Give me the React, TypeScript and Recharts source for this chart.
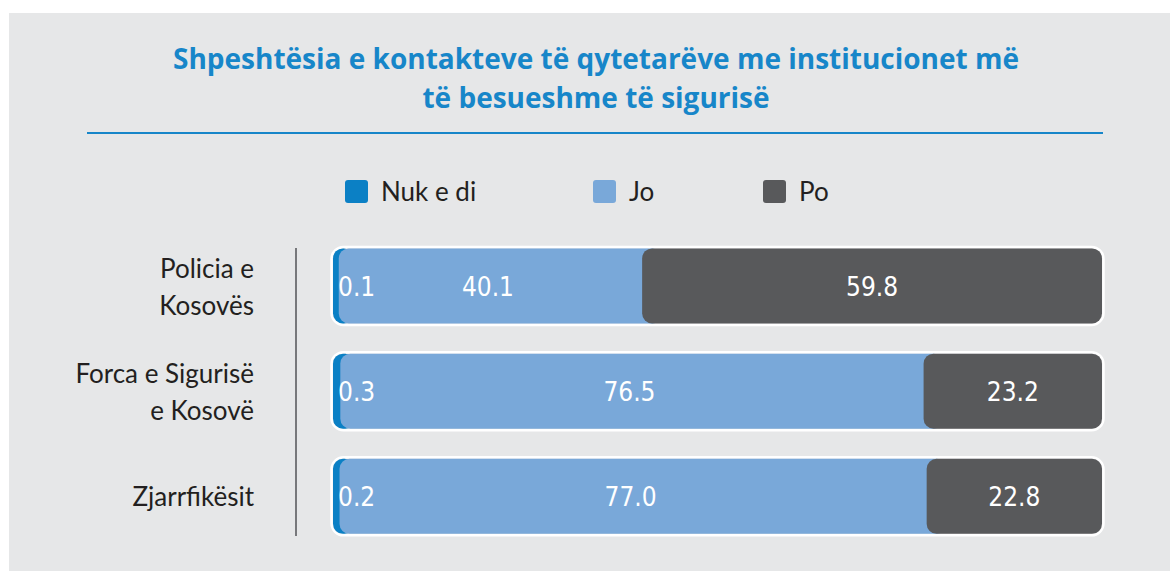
import React from 'react';
import { BarChart, Bar, XAxis, YAxis, LabelList } from 'recharts';

const categories = ['Policia e Kosovës', 'Forca e Sigurisë e Kosovë', 'Zjarrfikësit'];
const categoryLines = [['Policia e', 'Kosovës'], ['Forca e Sigurisë', 'e Kosovë'], ['Zjarrfikësit']];
const nukEDi = [0.1, 0.3, 0.2];
const jo = [40.1, 76.5, 77.0];
const po = [59.8, 23.2, 22.8];

const seriesKeys = ['nuk', 'jo', 'po'] as const;
const seriesNames = ['Nuk e di', 'Jo', 'Po'];
const seriesColors = ['#0b80c5', '#79a8d9', '#58595b'];

const data = categories.map((name, i) => ({ name, nuk: nukEDi[i], jo: jo[i], po: po[i] }));

const BG = '#e6e7e8';
const TEXT = '#231f20';
const TITLE = '#1786c9';
const NARROW = "'Liberation Sans Narrow', 'DejaVu Sans Condensed', sans-serif";
const SANS = "Lato, 'Open Sans', sans-serif";

// each segment is a rounded rect that runs under the next one
function segment(shiftLeft: number, extendRight: number) {
  return (props: any) => {
    const { x, y, width, height, fill } = props;
    const sx = x + shiftLeft;
    const w = Math.max(width - shiftLeft + extendRight, 0);
    return <rect x={sx} y={y} width={w} height={height} rx={10} ry={10} fill={fill} />;
  };
}

function outline(props: any) {
  const { x, y, width, height } = props;
  return (
    <rect x={x - 1.5} y={y - 1.5} width={width + 3} height={height + 3} rx={12} ry={12}
      fill="none" stroke="#ffffff" strokeWidth={2.5} />
  );
}

function valueLabel(mode: 'left' | 'center') {
  return (props: any) => {
    const { x, y, width, height, value } = props;
    const tx = mode === 'left' ? x + 5 : x + width / 2;
    return (
      <text x={tx} y={y + height / 2 + 10} fill="#ffffff" fontSize={26} fontFamily={NARROW}
        textAnchor={mode === 'left' ? 'start' : 'middle'}>
        {Number(value).toFixed(1)}
      </text>
    );
  };
}

function CategoryTick(props: any) {
  const { y, payload } = props;
  const lines = categoryLines[payload.index] ?? [payload.value];
  const offsets = lines.length === 2 ? [-8, 29] : [9.5];
  return (
    <g>
      {lines.map((l, i) => (
        <text key={i} x={245} y={y + offsets[i]} textAnchor="end" fill={TEXT} fontSize={26} fontFamily={SANS}>
          {l}
        </text>
      ))}
    </g>
  );
}

function LegendRow() {
  const xs = [336, 584, 754];
  return (
    <div style={{ position: 'absolute', left: 0, top: 167, width: 1161, height: 24 }}>
      {seriesNames.map((n, i) => (
        <div key={n} style={{ position: 'absolute', left: xs[i], top: 0, display: 'flex', alignItems: 'center' }}>
          <span style={{ width: 23, height: 23, borderRadius: 3, background: seriesColors[i], display: 'inline-block' }} />
          <span style={{ marginLeft: 13, fontSize: 26, fontFamily: SANS, color: TEXT, lineHeight: '23px' }}>{n}</span>
        </div>
      ))}
    </div>
  );
}

export default function App() {
  return (
    <div style={{ position: 'absolute', left: 9, top: 13, width: 1161, height: 558, background: BG, overflow: 'hidden' }}>
      <div style={{
        position: 'absolute', left: 0, top: 26, width: 1174, textAlign: 'center', color: TITLE,
        fontFamily: "'Open Sans', sans-serif", fontWeight: 700, fontSize: 28, lineHeight: '39px',
      }}>
        Shpeshtësia e kontakteve të qytetarëve me institucionet më<br />të besueshme të sigurisë
      </div>
      <div style={{ position: 'absolute', left: 78, top: 119, width: 1016, height: 2, background: TITLE }} />
      <div style={{ position: 'absolute', left: 286, top: 235, width: 1.5, height: 288, background: '#77787b' }} />
      <LegendRow />
      <BarChart
        width={1161}
        height={558}
        data={data}
        layout="vertical"
        barSize={75}
        margin={{ top: 220.4, right: 68, bottom: 21.9, left: 264 }}
      >
        <XAxis type="number" domain={[0, 100]} hide />
        <YAxis type="category" dataKey="name" width={60} axisLine={false} tickLine={false} tick={<CategoryTick />} />
        <Bar dataKey={seriesKeys[0]} name={seriesNames[0]} stackId="a" fill={seriesColors[0]} isAnimationActive={false}
          shape={segment(0, 20)} background={outline}>
          <LabelList dataKey={seriesKeys[0]} content={valueLabel('left')} />
        </Bar>
        <Bar dataKey={seriesKeys[1]} name={seriesNames[1]} stackId="a" fill={seriesColors[1]} isAnimationActive={false}
          shape={segment(5, 20)}>
          <LabelList dataKey={seriesKeys[1]} content={valueLabel('center')} />
        </Bar>
        <Bar dataKey={seriesKeys[2]} name={seriesNames[2]} stackId="a" fill={seriesColors[2]} isAnimationActive={false}
          shape={segment(0, 0)}>
          <LabelList dataKey={seriesKeys[2]} content={valueLabel('center')} />
        </Bar>
      </BarChart>
    </div>
  );
}
